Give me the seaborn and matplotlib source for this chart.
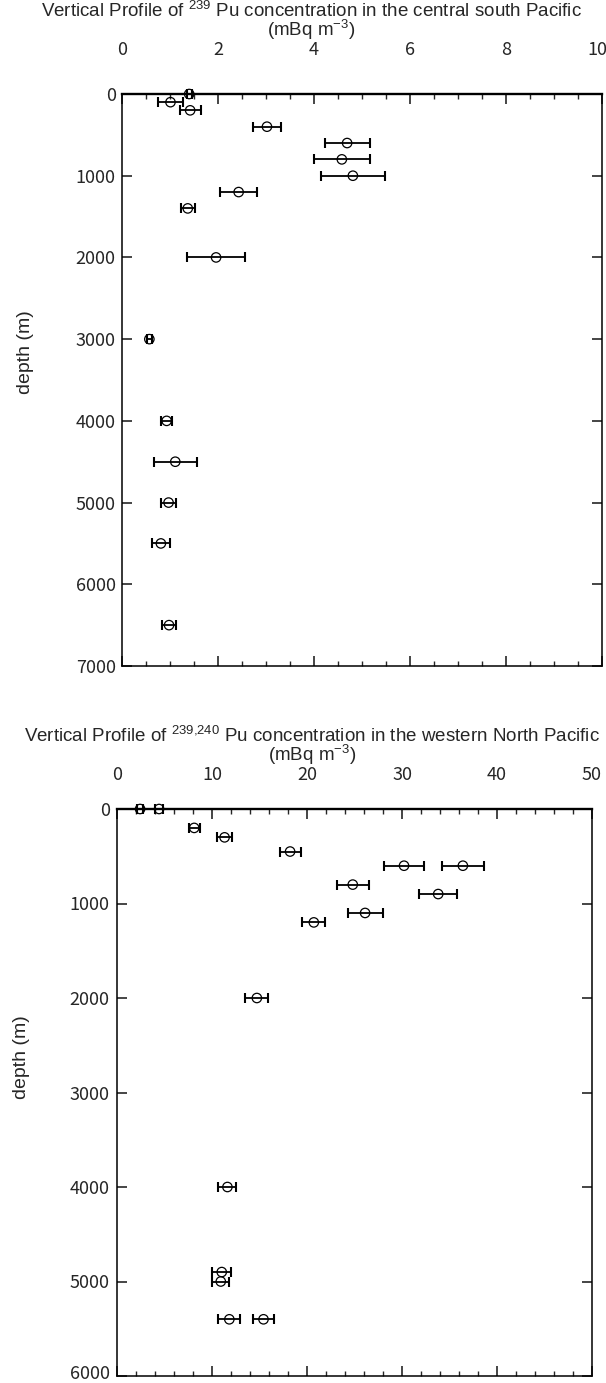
import matplotlib
matplotlib.use("Agg")
import matplotlib.pyplot as plt
import matplotlib.transforms as mtransforms
import seaborn as sns
import numpy as np
from matplotlib.ticker import MultipleLocator

# ---------------- data ----------------
# central south Pacific, 239Pu (mBq m-3)
sp_depth = [0, 100, 200, 400, 600, 800, 1000, 1200, 1400, 2000,
            3000, 4000, 4500, 5000, 5500, 6500]
sp_conc = [1.40, 1.01, 1.42, 3.02, 4.69, 4.58, 4.81, 2.43, 1.37, 1.96,
           0.57, 0.93, 1.11, 0.97, 0.81, 0.98]
sp_err = [0.05, 0.27, 0.22, 0.30, 0.47, 0.58, 0.67, 0.38, 0.15, 0.60,
          0.05, 0.12, 0.45, 0.16, 0.18, 0.14]

# western North Pacific, 239,240Pu (mBq m-3)
np_depth = [0, 0, 200, 300, 450, 600, 600, 800, 900, 1100, 1200, 2000,
            4000, 4900, 5000, 5400, 5400]
np_conc = [2.4, 4.4, 8.1, 11.3, 18.2, 30.2, 36.4, 24.8, 33.8, 26.1, 20.7, 14.7,
           11.6, 11.0, 10.9, 11.8, 15.4]
np_err = [0.3, 0.4, 0.6, 0.75, 1.1, 2.1, 2.2, 1.7, 2.0, 1.85, 1.2, 1.2,
          0.95, 1.0, 0.9, 1.15, 1.15]

title1_top = "Vertical Profile of $^{239}$ Pu concentration in the central south Pacific"
title1_bot = "Vertical Profile of $^{239{,}240}$ Pu concentration in the western North Pacific"
title2 = "(mBq m$^{-3}$)"
ylabel = "depth (m)"

# ---------------- style ----------------
sns.set_style("ticks")
plt.rcParams["font.family"] = ["Liberation Sans", "DejaVu Sans"]
plt.rcParams["mathtext.fontset"] = "custom"
plt.rcParams["mathtext.rm"] = "Liberation Sans"
plt.rcParams["mathtext.it"] = "Liberation Sans:italic"
plt.rcParams["mathtext.bf"] = "Liberation Sans:bold"

W, H = 606, 1383
fig = plt.figure(figsize=(W / 100, H / 100), dpi=100)


def fx(px):
    return px / W


def fy(py):
    return 1 - py / H


tick_family = ["Noto Sans CJK JP", "DejaVu Sans"]
tick_size = 13


def make_panel(rect, x, y, err, xmax, xmajor, xminor, ymax, xpad, ypad):
    ax = fig.add_axes(rect)
    ax.errorbar(x, y, xerr=err, fmt="none", ecolor="black", elinewidth=1.3,
                capsize=3.4, capthick=1.5, clip_on=False, zorder=2)
    sns.scatterplot(x=x, y=y, ax=ax, marker="o", s=46, facecolor="none",
                    edgecolor="black", linewidth=0.9, zorder=3, clip_on=False)
    ax.set_xlim(0, xmax)
    ax.set_ylim(ymax, 0)
    ax.xaxis.set_major_locator(MultipleLocator(xmajor))
    ax.xaxis.set_minor_locator(MultipleLocator(xminor))
    ax.yaxis.set_major_locator(MultipleLocator(1000))
    ax.tick_params(axis="x", which="both", direction="in", top=True, bottom=True,
                   labeltop=True, labelbottom=False, pad=xpad)
    ax.tick_params(axis="y", which="both", direction="in", left=True, right=True,
                   labelleft=True, labelright=False, pad=ypad)
    ax.tick_params(which="major", length=7, width=1.2)
    ax.tick_params(which="minor", length=3.6, width=1.0)
    for lab in ax.get_xticklabels() + ax.get_yticklabels():
        lab.set_fontfamily(tick_family)
        lab.set_fontsize(tick_size)
    for side in ["left", "right", "bottom"]:
        ax.spines[side].set_linewidth(1.1)
        ax.spines[side].set_color("black")
    ax.spines["top"].set_linewidth(1.7)
    ax.spines["top"].set_color("black")
    ax.set_xlabel("")
    ax.set_ylabel("")
    return ax


# top panel
ax1 = make_panel([fx(122), fy(666), fx(602) - fx(122), fy(94) - fy(666)],
                 sp_conc, sp_depth, sp_err, 10, 2, 0.5, 7000, xpad=25.5, ypad=4.5)
# bottom panel
ax2 = make_panel([fx(117.3), fy(1376), fx(592) - fx(117.3), fy(809) - fy(1376)],
                 np_conc, np_depth, np_err, 50, 10, 2, 6000, xpad=18, ypad=5.5)

# keep the edge labels inside the canvas (the reference shows them touching the edge)
fig.canvas.draw()
xt = ax1.xaxis.get_majorticklabels()
for lab in xt:
    if lab.get_text() == "10":
        lab.set_transform(lab.get_transform() +
                          mtransforms.ScaledTranslation(-5 / 100, 0, fig.dpi_scale_trans))
yt = ax2.yaxis.get_majorticklabels()
for lab in yt:
    if lab.get_text() == "6000":
        lab.set_transform(lab.get_transform() +
                          mtransforms.ScaledTranslation(0, 4 / 100, fig.dpi_scale_trans))

# titles (two lines each)
fig.text(fx(311), fy(0.5), title1_top + "\n" + title2, ha="center", va="top",
         multialignment="center", linespacing=0.85, fontsize=13.5)
fig.text(fx(312), fy(726), title1_bot + "\n" + title2, ha="center", va="top",
         multialignment="center", linespacing=0.85, fontsize=13.5)

# y labels
fig.text(fx(25), fy(352), ylabel, ha="center", va="center", rotation=90, fontsize=14)
fig.text(fx(22), fy(1057), ylabel, ha="center", va="center", rotation=90, fontsize=14)

fig.savefig("out.png", dpi=100)
